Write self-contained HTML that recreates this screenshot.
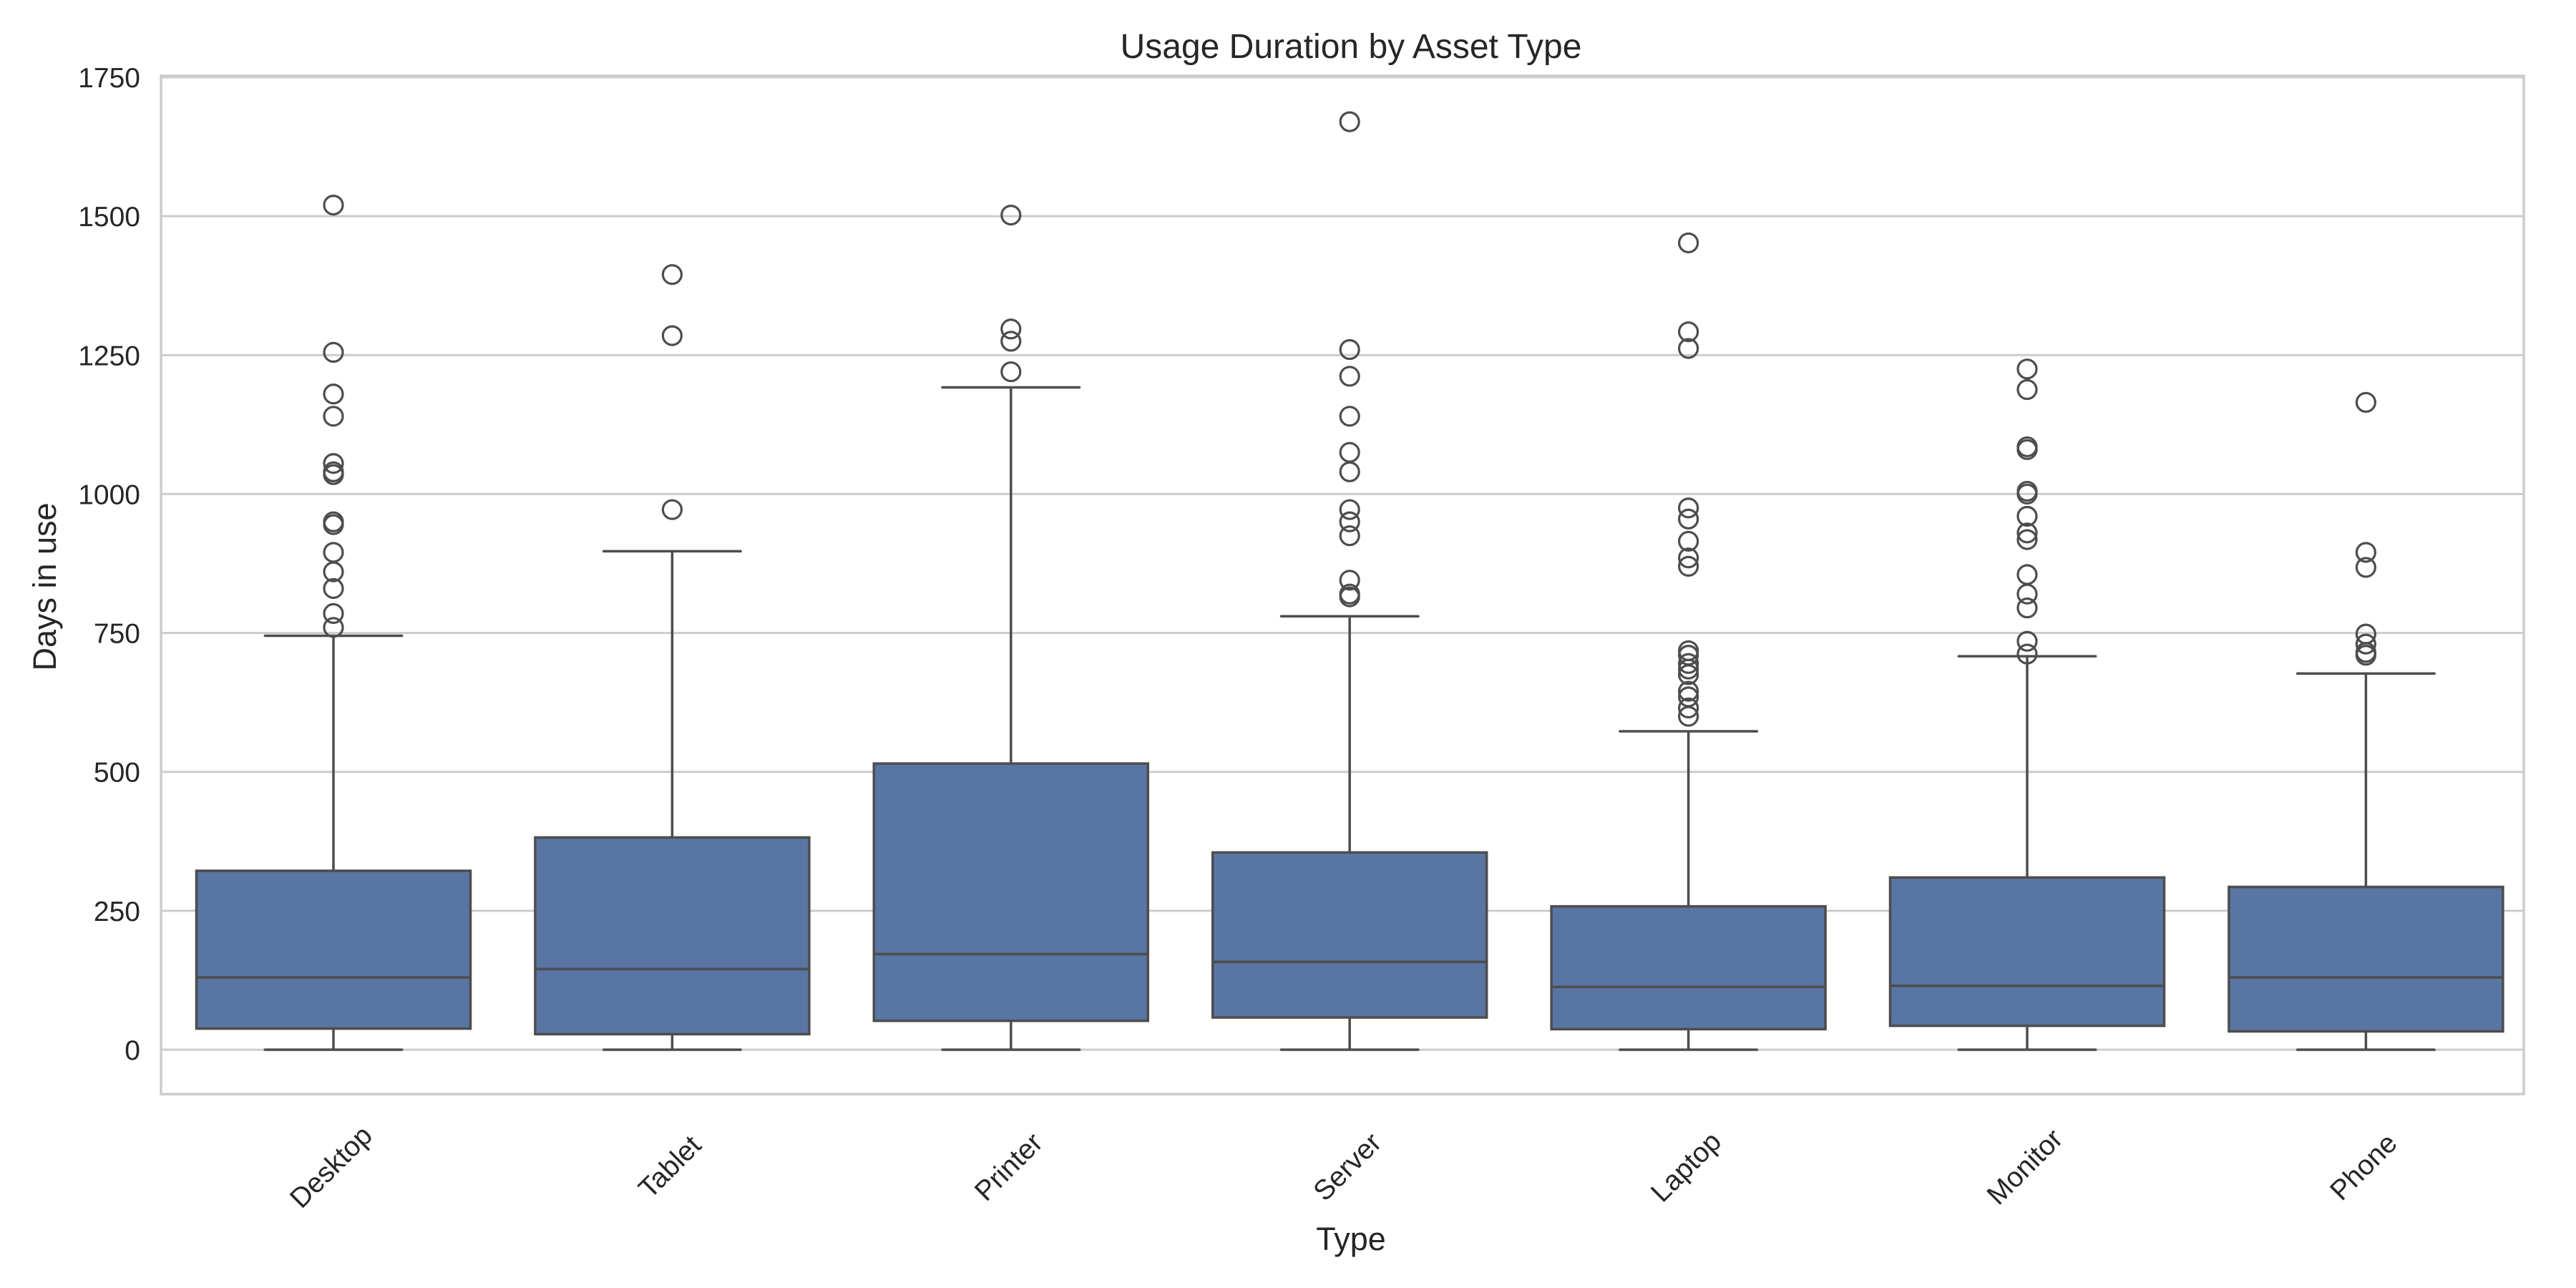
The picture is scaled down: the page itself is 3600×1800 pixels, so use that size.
<!DOCTYPE html>
<html><head><meta charset="utf-8"><style>
html,body{margin:0;padding:0;background:#fff;}
svg{display:block;font-family:"Liberation Sans",Arial,sans-serif;}
</style></head><body>
<svg id="chart" width="3600" height="1800" viewBox="0 0 3600 1800" xmlns="http://www.w3.org/2000/svg">
<rect width="3600" height="1800" fill="#fff"/>
<g id="grid"></g>
<g id="marks"></g>
<rect x="225" y="106" width="3302" height="1423" fill="none" stroke="#cccccc" stroke-width="3.5"/>
<g id="labels" fill="#262626"></g>
<text x="1888" y="81" font-size="48" text-anchor="middle" fill="#262626">Usage Duration by Asset Type</text>
<text x="1888" y="1747" font-size="45" text-anchor="middle" fill="#262626">Type</text>
<text x="78" y="820" font-size="45" text-anchor="middle" fill="#262626" transform="rotate(-90 78 820)">Days in use</text>
</svg>
<script>
const categories=["Desktop","Tablet","Printer","Server","Laptop","Monitor","Phone"];
const q1=[38,28,52,58,37,43,33];
const medians=[130,145,172,158,113,115,130];
const q3=[322,382,515,355,258,310,293];
const whiskLow=[0,0,0,0,0,0,0];
const whiskHigh=[745,897,1192,780,573,708,677];
const outliers=[
[1520,1255,1180,1140,1055,1040,1035,950,945,895,860,830,785,760],
[1395,1285,972],
[1502,1297,1275,1220],
[1670,1260,1212,1140,1075,1040,972,950,925,845,820,815],
[1452,1292,1262,975,955,915,885,870,718,710,695,685,675,645,635,615,600],
[1225,1188,1085,1080,1005,1000,960,930,918,855,820,795,735,712],
[1165,895,868,748,730,715,710]
];
const yTicks=[0,250,500,750,1000,1250,1500,1750];

const NS="http://www.w3.org/2000/svg";
const L=225,R=3527,Y0=1467,Y1750=108;
const y=v=>Y0-(v/1750)*(Y0-Y1750);
const step=473.4;
const x=i=>466+step*i;
const bw=383;
function mk(tag,attrs,parent){const e=document.createElementNS(NS,tag);for(const k in attrs)e.setAttribute(k,attrs[k]);parent.appendChild(e);return e;}
const grid=document.getElementById('grid'),marks=document.getElementById('marks'),labels=document.getElementById('labels');
const LC="#4d4d4d",LW=3.5;
yTicks.forEach(t=>{
  const g=mk('line',{x1:L,x2:R,y1:y(t),y2:y(t),stroke:'#cccccc','stroke-width':3},grid);
  
  
  const tx=mk('text',{x:196,y:y(t)+14,'font-size':39,'text-anchor':'end'},labels);
  tx.textContent=t;
  
  
});
categories.forEach((c,i)=>{
  const cx=x(i);
  const g=mk('g',{},marks);
  
  
  mk('line',{x1:cx,x2:cx,y1:y(q3[i]),y2:y(whiskHigh[i]),stroke:LC,'stroke-width':LW},g);
  mk('line',{x1:cx,x2:cx,y1:y(q1[i]),y2:y(whiskLow[i]),stroke:LC,'stroke-width':LW},g);
  mk('line',{x1:cx-bw/4,x2:cx+bw/4,y1:y(whiskHigh[i]),y2:y(whiskHigh[i]),stroke:LC,'stroke-width':LW,'stroke-linecap':'round'},g);
  mk('line',{x1:cx-bw/4,x2:cx+bw/4,y1:y(whiskLow[i]),y2:y(whiskLow[i]),stroke:LC,'stroke-width':LW,'stroke-linecap':'round'},g);
  mk('rect',{x:cx-bw/2,y:y(q3[i]),width:bw,height:y(q1[i])-y(q3[i]),fill:'#5975a4',stroke:LC,'stroke-width':LW},g);
  mk('line',{x1:cx-bw/2,x2:cx+bw/2,y1:y(medians[i]),y2:y(medians[i]),stroke:LC,'stroke-width':LW},g);
  outliers[i].forEach(v=>{
    const o=mk('circle',{cx:cx,cy:y(v),r:13,fill:'none',stroke:LC,'stroke-width':3.2},g);
    
    
  });
  const ty=1630;
  const t=mk('text',{x:cx-4,y:ty+14,'font-size':39,'text-anchor':'middle',transform:`rotate(-45 ${cx-4} ${ty})`},labels);
  t.textContent=c;
  
  
});
</script>
</body></html>
